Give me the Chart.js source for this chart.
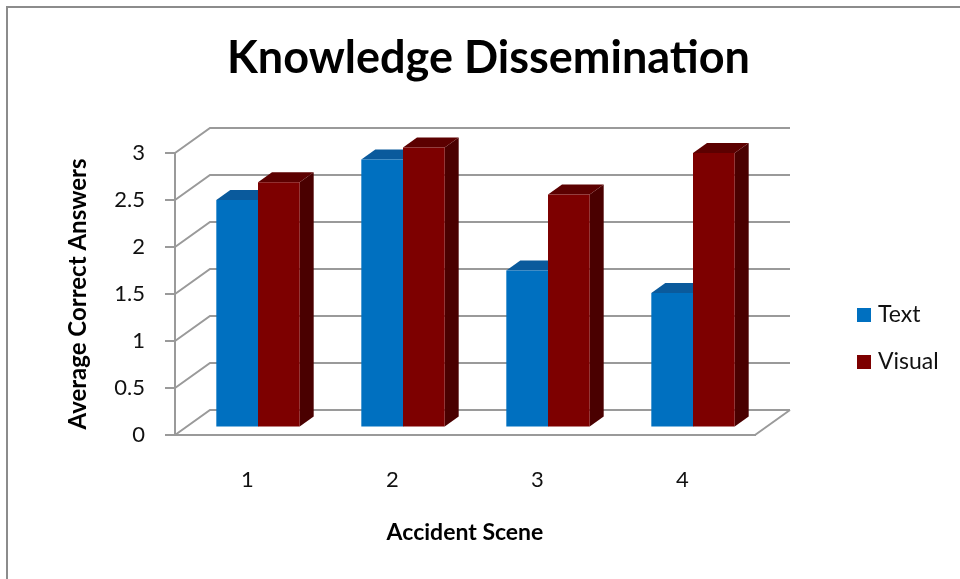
<!DOCTYPE html>
<html>
<head>
<meta charset="utf-8">
<title>Knowledge Dissemination</title>
<script src="https://cdn.jsdelivr.net/npm/chart.js@4.4.1/dist/chart.umd.min.js"></script>
<style>
  html, body { margin: 0; padding: 0; background: #fff; width: 960px; height: 579px; overflow: hidden; }
  #frame { position: absolute; left: 6px; top: 6px; width: 1000px; height: 1000px;
           border-left: 2px solid #8c8c8c; border-top: 2px solid #8c8c8c; }
  #c { position: absolute; left: 8px; top: 8px; }
</style>
</head>
<body>
<div id="frame"></div>
<canvas id="c" width="961" height="571"></canvas>
<script>
// Average number of correct answers per accident scene
const scenes = ['1', '2', '3', '4'];
const textScores = [2.42, 2.85, 1.67, 1.43];
const visualScores = [2.61, 2.98, 2.48, 2.92];
const seriesNames = ['Text', 'Visual'];
const yMin = 0, yMax = 3, yStep = 0.5;

const FONT = 'Lato, "Open Sans", sans-serif';
const GRID = '#9a9a9a';
const FRONT = ['#0070c0', '#7d0000'];
const TOP = ['#0a5a9c', '#5c0000'];
const SIDE = ['#004f88', '#4a0000'];

// oblique depth of the floor and walls; bars sit in the middle 40% of it
const DEPTH = { x: 35, y: -25 };
const BAR_FRONT = 0.3, BAR_BACK = 0.7;

const depth3d = {
  id: 'depth3d',
  beforeDatasetsDraw(chart) {
    const { ctx, chartArea: a, scales: { y } } = chart;
    ctx.save();
    ctx.strokeStyle = GRID;
    ctx.lineWidth = 2;
    // side wall diagonals + back wall gridlines
    y.ticks.forEach(t => {
      const py = y.getPixelForValue(t.value);
      ctx.beginPath();
      ctx.moveTo(a.left, py);
      ctx.lineTo(a.left + DEPTH.x, py + DEPTH.y);
      ctx.lineTo(a.right + DEPTH.x, py + DEPTH.y);
      ctx.stroke();
    });
    // right edge of the floor
    ctx.beginPath();
    ctx.moveTo(a.right, a.bottom);
    ctx.lineTo(a.right + DEPTH.x, a.bottom + DEPTH.y);
    ctx.stroke();
    ctx.restore();

    // push the bars back into the middle of the depth
    ctx.save();
    ctx.translate(DEPTH.x * BAR_FRONT, DEPTH.y * BAR_FRONT);
    const dx = DEPTH.x * (BAR_BACK - BAR_FRONT);
    const dy = DEPTH.y * (BAR_BACK - BAR_FRONT);
    chart.data.datasets.forEach((ds, i) => {
      const meta = chart.getDatasetMeta(i);
      meta.data.forEach(bar => {
        const { x, y: top, width, base } = bar.getProps(['x', 'y', 'width', 'base'], true);
        const l = x - width / 2, r = x + width / 2;
        ctx.fillStyle = SIDE[i];
        ctx.beginPath();
        ctx.moveTo(r, top); ctx.lineTo(r + dx, top + dy);
        ctx.lineTo(r + dx, base + dy); ctx.lineTo(r, base);
        ctx.closePath(); ctx.fill();
        ctx.fillStyle = TOP[i];
        ctx.beginPath();
        ctx.moveTo(l, top); ctx.lineTo(l + dx, top + dy);
        ctx.lineTo(r + dx, top + dy); ctx.lineTo(r, top);
        ctx.closePath(); ctx.fill();
      });
    });
  },
  afterDatasetsDraw(chart) {
    chart.ctx.restore();
  }
};

// legend to the right of the plot
const sideLegend = {
  id: 'sideLegend',
  afterDraw(chart, args, opts) {
    const ctx = chart.ctx;
    ctx.save();
    chart.data.datasets.forEach((ds, i) => {
      const cy = opts.y + i * opts.spacing;
      ctx.fillStyle = ds.backgroundColor;
      ctx.fillRect(opts.x, cy - opts.box / 2, opts.box, opts.box);
      ctx.fillStyle = '#111';
      ctx.font = opts.font;
      ctx.textBaseline = 'middle';
      ctx.textAlign = 'left';
      ctx.fillText(ds.label, opts.x + opts.box + 7, cy);
    });
    ctx.restore();
  }
};

new Chart(document.getElementById('c'), {
  type: 'bar',
  data: {
    labels: scenes,
    datasets: [
      { label: seriesNames[0], data: textScores, backgroundColor: FRONT[0], clip: false },
      { label: seriesNames[1], data: visualScores, backgroundColor: FRONT[1], clip: false }
    ]
  },
  options: {
    responsive: false,
    animation: false,
    layout: { padding: 0 },
    datasets: { bar: { categoryPercentage: 0.575, barPercentage: 1.0, borderWidth: 0 } },
    plugins: {
      legend: { display: false },
      tooltip: { enabled: false },
      title: {
        display: true,
        text: 'Knowledge Dissemination',
        color: '#000',
        font: { family: FONT, size: 45, weight: 'bold' },
        padding: { top: 23, bottom: 68 }
      },
      sideLegend: { x: 849, y: 307, spacing: 47, box: 14, font: '23px ' + FONT }
    },
    scales: {
      x: {
        grid: { display: true, drawOnChartArea: false, drawTicks: true, tickLength: 30, color: 'rgba(0,0,0,0)' },
        border: { display: true, color: GRID, width: 2 },
        ticks: { color: '#111', padding: 2, font: { family: FONT, size: 22 } },
        title: {
          display: true, text: 'Accident Scene', color: '#000',
          font: { family: FONT, size: 23, weight: 'bold' },
          padding: { top: 10, bottom: 33 }
        },
        afterFit(s) { s.height = 144; }
      },
      y: {
        min: yMin, max: yMax,
        ticks: {
          stepSize: yStep, color: '#111', padding: 20, font: { family: FONT, size: 22 },
          callback: v => String(v)
        },
        grid: { display: true, drawOnChartArea: false, drawTicks: true, tickLength: 10, color: GRID, lineWidth: 2 },
        border: { display: true, color: GRID, width: 2 },
        title: {
          display: true, text: 'Average Correct Answers', color: '#000',
          font: { family: FONT, size: 24, weight: 'bold' },
          padding: { top: 56, bottom: 0 }
        },
        afterFit(s) { s.width = 167; }
      },
      legendSpace: {
        type: 'linear', position: 'right', display: true,
        grid: { display: false }, border: { display: false }, ticks: { display: false },
        afterFit(s) { s.width = 214; }
      }
    }
  },
  plugins: [depth3d, sideLegend]
});
</script>
</body>
</html>
